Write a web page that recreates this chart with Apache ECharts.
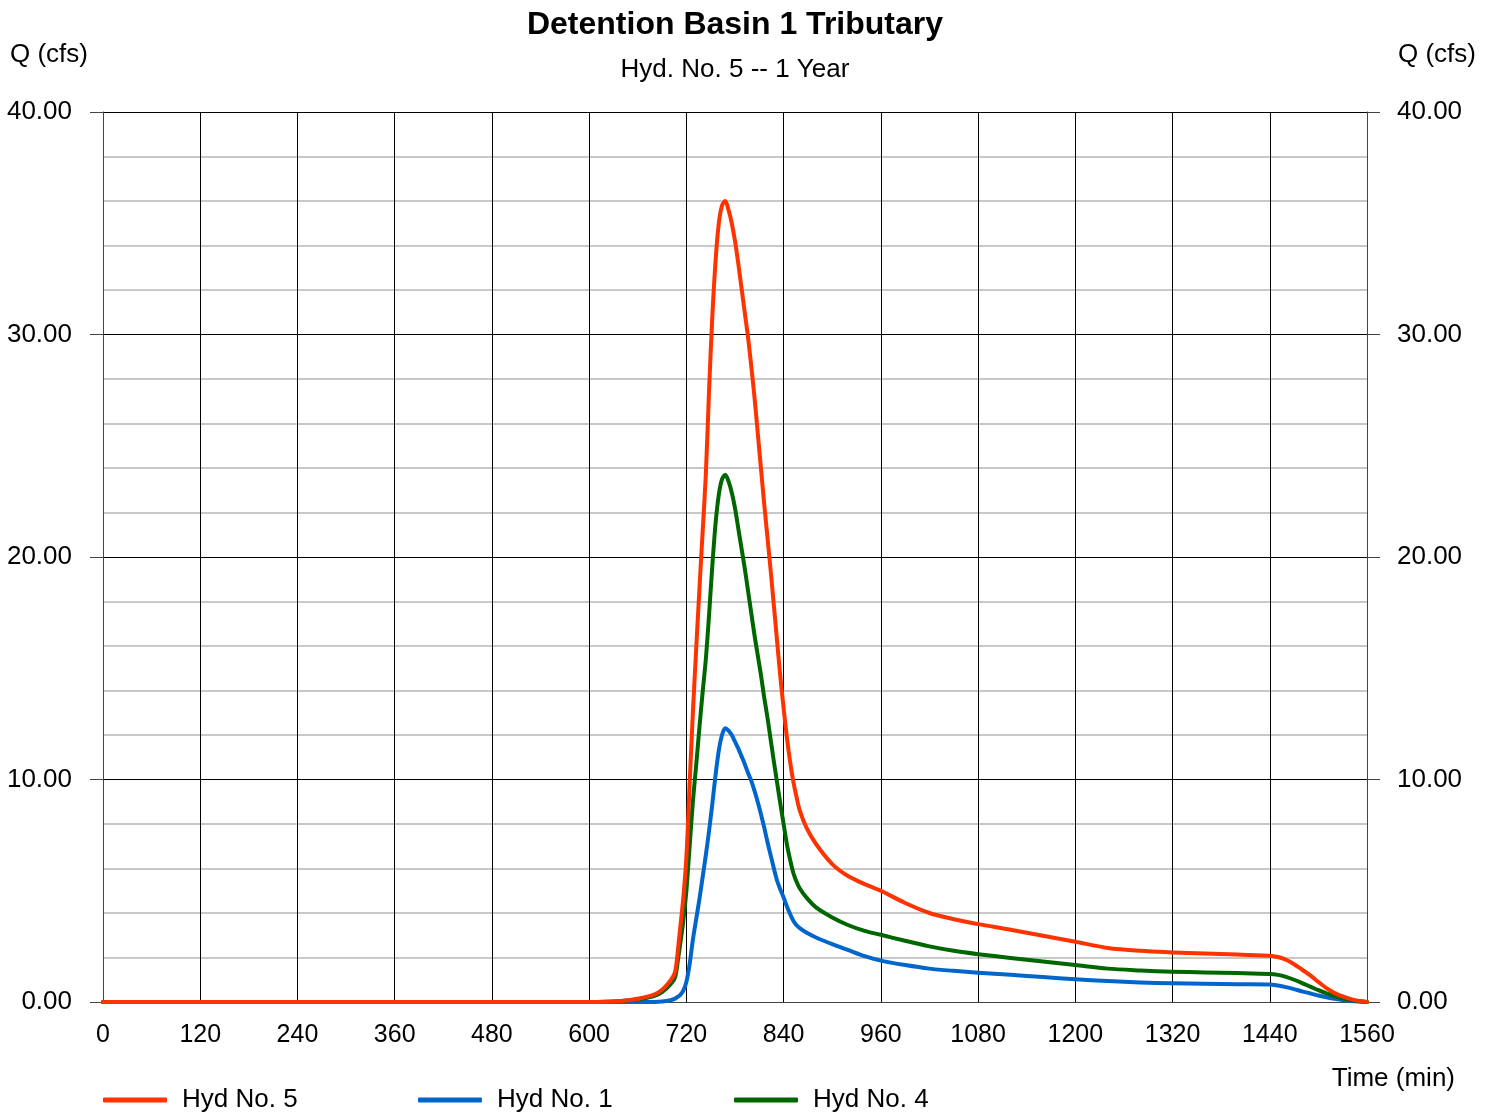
<!DOCTYPE html>
<html>
<head>
<meta charset="utf-8">
<script src="https://cdn.jsdelivr.net/npm/echarts@6/dist/echarts.min.js"></script>
<style>
html,body{margin:0;padding:0;background:#fff;}
#chart{width:1494px;height:1114px;}
</style>
</head>
<body>
<div id="chart"></div>
<script>
// Time (min)
const times = [0, 600, 620, 640, 660, 680, 690, 700, 706, 710, 712, 716, 720, 724, 728, 732, 736, 740, 744, 748, 752, 756, 760, 764, 768,
  772, 776, 780, 784, 788, 792, 796, 800, 804, 808, 812, 816, 820, 824, 828, 832, 836, 840, 844, 848, 852, 856, 860, 868, 880,
  900, 920, 940, 960, 990, 1020, 1050, 1080, 1120, 1160, 1200, 1240, 1280, 1320, 1360, 1400, 1440, 1450, 1460, 1470, 1480,
  1490, 1500, 1510, 1520, 1530, 1540, 1550, 1560];
// Hyd No. 5 (cfs)
const hyd5 = [0, 0, 0.01, 0.05, 0.15, 0.33, 0.55, 0.95, 1.35, 2.5, 3.2, 4.6, 6.5, 9.8, 13.0, 15.8, 18.5, 21.1, 23.7, 27.5, 30.8, 33.3, 35.0, 35.8, 36.0,
  35.6, 35.0, 34.2, 33.2, 32.1, 31.0, 29.9, 28.6, 27.2, 25.6, 24.0, 22.4, 20.9, 19.4, 17.8, 16.2, 14.6, 13.2, 11.9, 10.8, 9.9, 9.2, 8.6, 7.85, 7.1,
  6.2, 5.65, 5.3, 5.0, 4.45, 4.0, 3.72, 3.5, 3.25, 2.98, 2.71, 2.43, 2.3, 2.23, 2.18, 2.13, 2.08, 2.02, 1.9, 1.7, 1.45,
  1.2, 0.9, 0.62, 0.4, 0.25, 0.13, 0.05, 0];
// Hyd No. 1 (cfs)
const hyd1 = [0, 0, 0, 0, 0, 0, 0.02, 0.08, 0.15, 0.25, 0.3, 0.5, 0.9, 1.7, 2.8, 3.7, 4.6, 5.6, 6.6, 7.7, 8.9, 10.2, 11.3, 12.0, 12.3,
  12.2, 12.0, 11.7, 11.4, 11.05, 10.7, 10.3, 9.95, 9.5, 9.0, 8.45, 7.85, 7.2, 6.6, 6.0, 5.45, 5.05, 4.7, 4.3, 3.95, 3.65, 3.45, 3.32, 3.12, 2.9,
  2.6, 2.33, 2.06, 1.86, 1.66, 1.5, 1.4, 1.32, 1.22, 1.12, 1.02, 0.94, 0.88, 0.84, 0.82, 0.8, 0.79, 0.74, 0.67, 0.58, 0.48,
  0.39, 0.29, 0.21, 0.14, 0.09, 0.05, 0.02, 0];
// Hyd No. 4 (cfs)
const hyd4 = [0, 0, 0.01, 0.04, 0.12, 0.27, 0.45, 0.78, 1.1, 2.0, 2.5, 3.6, 5.0, 7.0, 9.0, 10.6, 12.3, 13.9, 15.4, 17.4, 19.6, 21.5, 22.8, 23.5, 23.7,
  23.4, 22.9, 22.2, 21.3, 20.4, 19.5, 18.5, 17.5, 16.5, 15.6, 14.7, 13.7, 12.8, 11.8, 10.8, 9.85, 8.9, 8.0, 7.1, 6.4, 5.8, 5.4, 5.1, 4.7, 4.25,
  3.8, 3.45, 3.2, 3.02, 2.75, 2.5, 2.3, 2.15, 1.98, 1.82, 1.66, 1.5, 1.42, 1.36, 1.33, 1.3, 1.26, 1.22, 1.13, 1.0, 0.85,
  0.69, 0.53, 0.39, 0.27, 0.17, 0.09, 0.03, 0];

const names = ['Hyd No. 5', 'Hyd No. 1', 'Hyd No. 4'];
const colors = {'Hyd No. 5': '#FF3300', 'Hyd No. 1': '#0066CC', 'Hyd No. 4': '#006600'};

const FONT = "'Liberation Sans', Arial, sans-serif";
const pairs = arr => times.map((t, i) => [t, arr[i]]);

const chart = echarts.init(document.getElementById('chart'));

function yAxisCfg(pos) {
  return {
    type: 'value', position: pos, min: 0, max: 40, interval: 10,
    axisLine: {show: true, lineStyle: {color: '#444', width: 1}},
    axisTick: {show: true, length: 13, lineStyle: {color: '#444', width: 1}},
    axisLabel: {margin: pos === 'left' ? 31 : 30, color: '#000', fontSize: 26, fontFamily: FONT,
      formatter: v => v.toFixed(2)},
    splitLine: {show: true, lineStyle: {color: '#000', width: 1}},
    minorTick: {show: false, splitNumber: 5},
    minorSplitLine: {show: true, lineStyle: {color: '#c8c8c8', width: 2}}
  };
}

function line(name, data, z) {
  return {
    name: name, type: 'line', data: pairs(data), showSymbol: false, symbol: 'none',
    smooth: 0.3, z: z,
    lineStyle: {color: colors[name], width: 4, cap: 'round', join: 'round'},
    itemStyle: {color: colors[name]}
  };
}

function legendCfg(name, left) {
  return {
    data: [name], left: left, top: 1087, padding: 0,
    icon: 'roundRect', itemWidth: 64, itemHeight: 5,
    textStyle: {fontSize: 26, color: '#000', fontFamily: FONT, padding: [0, 0, 0, 10]},
    selectedMode: false
  };
}

const txt = (size, weight) => ({fontSize: size, fontWeight: weight, color: '#000', fontFamily: FONT});

chart.setOption({
  animation: false,
  backgroundColor: '#fff',
  title: [
    {text: 'Detention Basin 1 Tributary', left: 735, textAlign: 'center', top: 9, padding: 0, textStyle: txt(32, 'bold')},
    {text: 'Hyd. No. 5 -- 1 Year', left: 735, textAlign: 'center', top: 57, padding: 0, textStyle: txt(26, 'normal')},
    {text: 'Q (cfs)', left: 10, top: 42, padding: 0, textStyle: txt(26, 'normal')},
    {text: 'Q (cfs)', right: 18, top: 42, padding: 0, textStyle: txt(26, 'normal')},
    {text: 'Time (min)', right: 39, top: 1066, padding: 0, textStyle: txt(26, 'normal')}
  ],
  legend: [legendCfg(names[0], 103), legendCfg(names[1], 418), legendCfg(names[2], 734)],
  grid: {left: 103, right: 127, top: 112, bottom: 112, containLabel: false},
  xAxis: {
    type: 'value', min: 0, max: 1560, interval: 120,
    axisLine: {show: true, lineStyle: {color: '#444', width: 1}},
    axisTick: {show: false},
    axisLabel: {margin: 21, color: '#000', fontSize: 25, fontFamily: FONT, formatter: v => String(v)},
    splitLine: {show: true, lineStyle: {color: '#000', width: 1}}
  },
  yAxis: [yAxisCfg('left'), yAxisCfg('right')],
  series: [
    line('Hyd No. 1', hyd1, 2),
    line('Hyd No. 4', hyd4, 3),
    line('Hyd No. 5', hyd5, 4)
  ]
});
</script>
</body>
</html>
